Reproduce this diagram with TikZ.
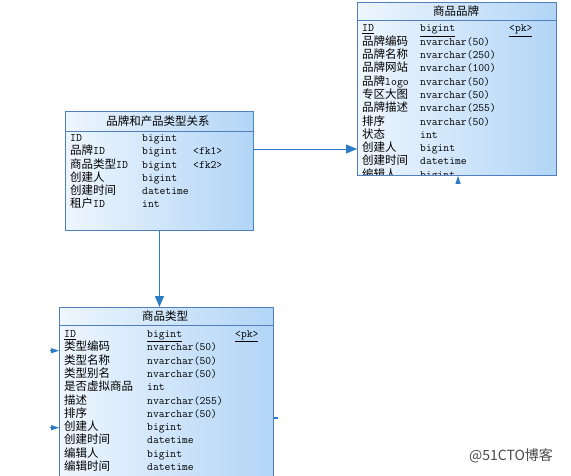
\documentclass[tikz,border=0pt]{standalone}
\usepackage{fontspec}
\setmainfont{Noto Sans CJK SC}
\usetikzlibrary{arrows.meta}
\definecolor{bord}{HTML}{4F7FBF}
\definecolor{arr}{HTML}{2A7CC6}
\definecolor{boxL}{HTML}{EEF6FE}
\definecolor{boxR}{HTML}{B2D5F6}
\definecolor{wm}{HTML}{4A4A4A}
\newcommand{\tn}[1]{{\ttfamily #1}}
\begin{document}
\begin{tikzpicture}[x=1pt,y=-1pt,
  tbl/.style={draw=bord, line width=0.9pt, left color=boxL, right color=boxR, anchor=north west, inner sep=0pt},
  ttl/.style={font=\fontsize{11.5}{12}\selectfont, anchor=center, inner sep=0pt},
  fld/.style={font=\fontsize{11.5}{12}\selectfont, anchor=base west, inner sep=0pt},
  typ/.style={font=\fontsize{11.3}{12}\selectfont\ttfamily, anchor=base west, inner sep=0pt},
  sep/.style={draw=bord, line width=0.9pt},
  link/.style={draw=arr, line width=0.9pt, -{Triangle[length=11pt,width=9pt]}},
  stub/.style={draw=arr, line width=0.9pt, -{Triangle[length=8pt,width=5pt]}},
]
\useasboundingbox (0,0) rectangle (571,476);
\clip (0,0) rectangle (571,476);

% ---------- brand table ----------
\node[tbl, minimum width=199pt, minimum height=173pt] (brand) at (357,2) {};
\node[ttl] (brandT) at (456,11) {商品品牌};
\draw[sep] ([yshift=-18pt]brand.north west) -- ([yshift=-18pt]brand.north east);
\begin{scope}
\clip (brand.north west) rectangle (brand.south east);
\foreach [count=\i] \nm/\ty/\ky in {
  {\underline{\tn{ID}}}/{\underline{bigint}}/{\underline{<pk>}},
  品牌编码/nvarchar(50)/{},
  品牌名称/nvarchar(250)/{},
  品牌网站/nvarchar(100)/{},
  品牌\tn{logo}/nvarchar(50)/{},
  专区大图/nvarchar(50)/{},
  品牌描述/nvarchar(255)/{},
  排序/nvarchar(50)/{},
  状态/int/{},
  创建人/bigint/{},
  创建时间/datetime/{},
  编辑人/bigint/{}} {
  \node[fld] (bn\i) at (362,{32+13.3*(\i-1)}) {\nm};
  \node[typ] (bt\i) at (420,{32+13.3*(\i-1)}) {\ty};
  \node[typ] (bk\i) at (509,{32+13.3*(\i-1)}) {\ky};
}
\end{scope}
\draw[bord, line width=0.9pt] (brand.north west) rectangle (brand.south east);

% ---------- relation table ----------
\node[tbl, minimum width=188pt, minimum height=119pt] (rel) at (65,111) {};
\node[ttl] (relT) at (158,121.5) {品牌和产品类型关系};
\draw[sep] ([yshift=-20pt]rel.north west) -- ([yshift=-20pt]rel.north east);
\foreach [count=\i] \nm/\ty/\ky in {
  {\tn{ID}}/bigint/{},
  品牌\tn{ID}/bigint/{<fk1>},
  商品类型\tn{ID}/bigint/{<fk2>},
  创建人/bigint/{},
  创建时间/datetime/{},
  租户\tn{ID}/int/{}} {
  \node[fld] (rn\i) at (70,{141.5+13.3*(\i-1)}) {\nm};
  \node[typ] (rt\i) at (142,{141.5+13.3*(\i-1)}) {\ty};
  \node[typ] (rk\i) at (193,{141.5+13.3*(\i-1)}) {\ky};
}

% ---------- category table ----------
\node[tbl, minimum width=214pt, minimum height=180pt] (cat) at (59,307) {};
\node[ttl] (catT) at (165,315.7) {商品类型};
\draw[sep] ([yshift=-18pt]cat.north west) -- ([yshift=-18pt]cat.north east);
\foreach [count=\i] \nm/\ty/\ky in {
  {\underline{\tn{ID}}}/{\underline{bigint}}/{\underline{<pk>}},
  类型编码/nvarchar(50)/{},
  类型名称/nvarchar(50)/{},
  类型别名/nvarchar(50)/{},
  是否虚拟商品/int/{},
  描述/nvarchar(255)/{},
  排序/nvarchar(50)/{},
  创建人/bigint/{},
  创建时间/datetime/{},
  编辑人/bigint/{},
  编辑时间/datetime/{}} {
  \node[fld] (cn\i) at (64,{337.5+13.3*(\i-1)}) {\nm};
  \node[typ] (ct\i) at (147,{337.5+13.3*(\i-1)}) {\ty};
  \node[typ] (ck\i) at (235,{337.5+13.3*(\i-1)}) {\ky};
}

% ---------- connectors ----------
\coordinate (yA) at (0,149);
\draw[link] (rel.east |- yA) -- (brand.west |- yA);
\draw[link] (rel.south) -- (cat.north -| rel.south);

\coordinate (s1) at (0,350.7);
\coordinate (s2) at (0,427.7);
\coordinate (s1o) at (50,350.7);
\coordinate (s2o) at (50,427.7);
\draw[stub] (s1o) -- (cat.west |- s1);
\draw[stub] (s2o) -- (cat.west |- s2);
\coordinate (s3o) at (458,183);
\draw[stub] (s3o) -- (brand.south -| s3o);
\coordinate (s4o) at (278,418);
\draw[draw=arr, line width=1.2pt] (cat.east |- s4o) -- (s4o);

% ---------- watermark ----------
\node[font=\fontsize{14}{15}\selectfont, text=wm, inner sep=0pt] (wmk) at (511,456) {@51CTO博客};
\end{tikzpicture}
\end{document}
